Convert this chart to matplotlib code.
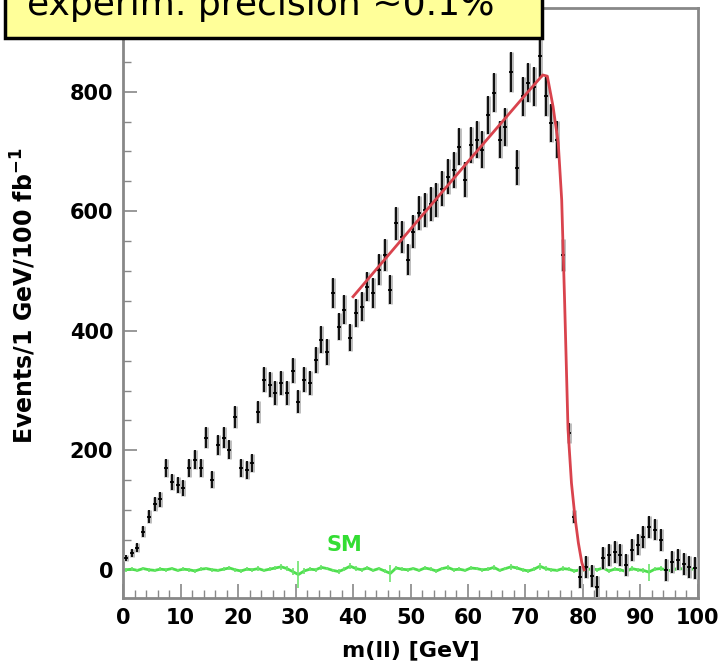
import numpy as np
import matplotlib.pyplot as plt
from matplotlib.patches import Rectangle
from matplotlib.ticker import MultipleLocator

# dilepton invariant mass, 1 GeV bins
mll = np.arange(0.5, 100, 1.0)
events = [20, 28, 37, 64, 89, 110, 118, 171, 147, 142,
          137, 171, 184, 171, 221, 151, 209, 221, 201, 256,
          171, 167, 179, 264, 318, 310, 296, 313, 296, 333,
          281, 318, 313, 351, 385, 365, 463, 407, 435, 388,
          430, 440, 474, 463, 502, 527, 469, 580, 557, 519,
          566, 597, 602, 612, 619, 638, 658, 669, 708, 653,
          711, 720, 703, 761, 798, 720, 741, 833, 673, 792,
          815, 808, 859, 792, 748, 720, 527, 229, 89, -12,
          5, -10, -28, 20, 25, 30, 25, 8, 33, 42,
          55, 72, 67, 50, 0, 13, 17, 10, 5, 3]

# Standard Model background
sm = [0, 1, -1, 2, 0, -1, 1, 0, 2, -1,
      1, 0, -2, 1, 2, 0, -1, 1, 3, 0,
      -2, 1, 0, 2, -1, 1, 3, 5, 2, -3,
      -8, -2, 1, 0, 4, 2, -1, -3, 1, 6,
      2, 0, 3, -1, 2, -2, -6, 3, 1, 0,
      2, -1, 3, 1, -2, 2, 4, 0, 1, -1,
      3, 2, 0, 1, 4, -1, 2, 5, 3, 0,
      -2, 1, 6, 2, 0, -1, 2, 1, -2, 0,
      -1, 2, 0, 3, -2, 1, 0, -3, 2, 0,
      -1, -4, 1, 2, 0, -2, 3, 1, 0, 2]
sm_err = [3, 3, 3, 3, 3, 3, 3, 3, 3, 3,
          3, 3, 4, 3, 3, 3, 3, 3, 4, 3,
          3, 3, 3, 4, 3, 3, 4, 5, 4, 6,
          22, 5, 3, 3, 4, 3, 3, 4, 3, 5,
          4, 3, 4, 3, 3, 4, 14, 4, 3, 3,
          3, 3, 4, 3, 3, 3, 4, 3, 3, 3,
          4, 3, 3, 3, 4, 3, 3, 5, 4, 3,
          4, 3, 6, 4, 3, 3, 4, 3, 4, 3,
          3, 4, 3, 4, 3, 3, 3, 5, 4, 3,
          4, 14, 3, 4, 3, 4, 4, 3, 3, 4]

# fitted edge
fit_x = [40, 50, 60, 70, 72, 73, 73.8, 74.8, 75.7, 76.3, 76.8, 77.4, 78.0, 78.6, 79.2, 79.8, 80.2]
fit_y = [457, 570, 683, 795, 817, 828, 826, 775, 714, 619, 452, 235, 145, 89, 45, 12, 0]

ev = np.array(events, dtype=float)
err = 1.15 * np.sqrt(np.abs(ev))
err = np.where(mll > 79, 18, err)

fig = plt.figure(figsize=(7.24, 6.71), dpi=100)
ax = fig.add_axes([0.170, 0.109, 0.794, 0.879])

ax.plot(mll, sm, color='#4ee04e', lw=2.0, zorder=2)
ax.errorbar(mll, sm, yerr=sm_err, fmt='none', ecolor='#6ee46e', elinewidth=1.2, zorder=2)
ax.text(38.5, 42, 'SM', color='#33dd33', fontsize=15, fontweight='bold', ha='center', va='center')

ax.errorbar(mll, ev, yerr=err, xerr=0.35, fmt='none', ecolor='#bbbbbb', elinewidth=3.5, capsize=0, zorder=3)
ax.errorbar(mll, ev, yerr=err, xerr=0.35, fmt='none', ecolor='black', elinewidth=1.3, capsize=0, zorder=4)

ax.plot(fit_x, fit_y, color='#d9434d', lw=2.0, zorder=5)

ax.set_xlim(0, 100)
ax.set_ylim(-47, 940)
ax.xaxis.set_major_locator(MultipleLocator(10))
ax.xaxis.set_minor_locator(MultipleLocator(2))
ax.yaxis.set_major_locator(MultipleLocator(200))
ax.yaxis.set_minor_locator(MultipleLocator(50))
ax.tick_params(which='both', direction='in', color='#888888', top=False, right=False)
ax.tick_params(which='major', length=10, width=1.2, labelsize=15, pad=7)
ax.tick_params(which='minor', length=6, width=1.0)
for lab in ax.get_xticklabels() + ax.get_yticklabels():
    lab.set_fontweight('bold')
for s in ax.spines.values():
    s.set_color('#888888')
    s.set_linewidth(2)

ax.set_xlabel('m(ll) [GeV]', fontsize=16, fontweight='bold', labelpad=9)
ax.set_ylabel('Events/1 GeV/100 fb$^{\\mathbf{-1}}$', fontsize=17, fontweight='bold')
ax.yaxis.set_label_coords(-0.148, 0.513)

# label box at the top
fig.patches.append(Rectangle((5 / 724, (671 - 38) / 671), 537 / 724, 0.2,
                             transform=fig.transFigure, facecolor='#ffff99',
                             edgecolor='black', linewidth=2.5, zorder=10))
fig.text(27 / 724, (671 - 15) / 671, 'experim. precision ~0.1%', fontsize=26,
         va='baseline', ha='left', zorder=11)

fig.savefig('out.png', dpi=100)
